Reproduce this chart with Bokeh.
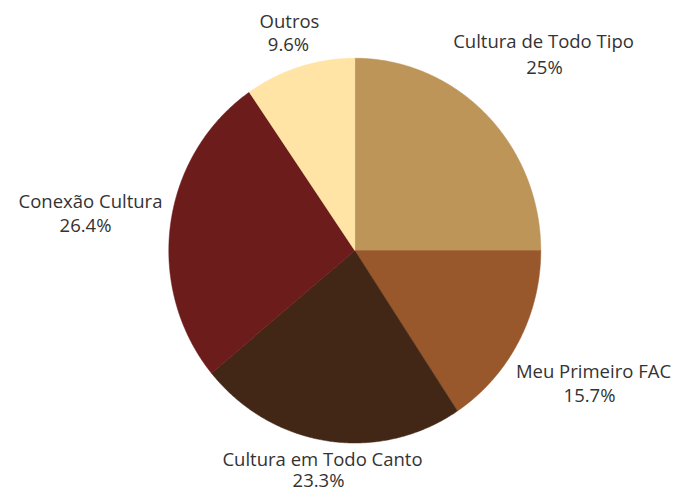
import numpy as np
from bokeh.plotting import figure
from bokeh.models import ColumnDataSource
from bokeh.core.properties import value
from bokeh.embed import file_html
from bokeh.resources import INLINE

categories = ["Cultura de Todo Tipo", "Meu Primeiro FAC", "Cultura em Todo Canto", "Conexão Cultura", "Outros"]
shares = [25.0, 15.7, 23.3, 26.4, 9.6]
pct_labels = ["25%", "15.7%", "23.3%", "26.4%", "9.6%"]
colors = ["#BD9558", "#98582B", "#432716", "#6C1C1A", "#FFE4A6"]

W, H = 675, 490
cx, cy = 354.3, H - 250.1
rx, ry = 186.0, 192.4

p = figure(width=W, height=H, x_range=(0, W), y_range=(0, H),
           output_backend="svg", toolbar_location=None, min_border=0)
p.axis.visible = False
p.grid.visible = False
p.outline_line_color = None
p.background_fill_color = "white"

total = sum(shares)
xs, ys = [], []
start = np.pi / 2
for s in shares:
    sweep = 2 * np.pi * s / total
    t = np.linspace(start, start - sweep, 200)
    xs.append([cx] + list(cx + rx * np.cos(t)) + [cx])
    ys.append([cy] + list(cy + ry * np.sin(t)) + [cy])
    start -= sweep

src = ColumnDataSource(dict(xs=xs, ys=ys, color=colors))
p.patches("xs", "ys", source=src, fill_color="color", line_color="color", line_width=0.5)

# label anchor positions (pixels from top-left), name line then percent line
name_x = [543, 593, 322, 90, 289]
pct_x = [544, 589, 318, 85, 288]
label_y1 = [40, 369.5, 457.5, 199.5, 19.5]
label_y2 = [66, 393.5, 478.5, 224, 42.5]

lsrc = ColumnDataSource(dict(
    nx=name_x, px=pct_x, y1=[H - v for v in label_y1], y2=[H - v for v in label_y2],
    name=categories, pct=pct_labels))
common = dict(text_font=value("Open Sans"), text_font_size="18.5px", text_color="#333333",
              text_align="center", text_baseline="middle")
p.text(x="nx", y="y1", text="name", source=lsrc, **common)
p.text(x="px", y="y2", text="pct", source=lsrc, **common)

open("out.html", "w").write(file_html(p, INLINE))
